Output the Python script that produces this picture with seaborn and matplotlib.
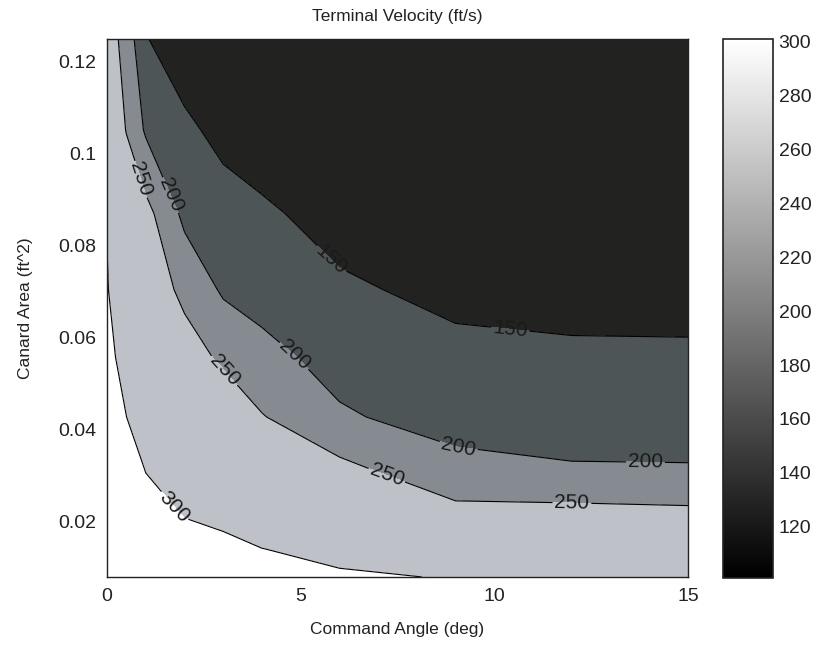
import numpy as np
import pandas as pd
import matplotlib
matplotlib.use("Agg")
import matplotlib.pyplot as plt
import seaborn as sns
from matplotlib import colors as mcolors
from matplotlib.cm import ScalarMappable

# ---- data ----
command_angle = [0, 0.5, 1, 2, 3, 4, 6, 9, 12, 15]          # deg
canard_area = [0.0080, 0.0141, 0.0220, 0.0315, 0.0428,
               0.0558, 0.0705, 0.0870, 0.1052, 0.1250]       # ft^2

# terminal velocity (ft/s), one list per canard area (rows), across command angles
v_area_0080 = [301.0, 301.0, 301.0, 301.0, 301.0, 300.6, 300.5, 299.8, 297.5, 296.0]
v_area_0141 = [301.0, 301.0, 300.9, 300.47, 300.4, 300.05, 298.9, 293.0, 290.0, 287.0]
v_area_0220 = [301.0, 300.9, 300.5, 299.92, 299.57, 297.5, 286.0, 264.0, 263.3, 259.0]
v_area_0315 = [301.0, 300.7, 299.95, 297.0, 295.0, 285.0, 263.5, 212.0, 203.5, 203.0]
v_area_0428 = [301.0, 300.02, 298.0, 289.0, 286.0, 252.9, 204.8, 184.0, 180.0, 178.0]
v_area_0558 = [300.9, 298.85, 292.0, 273.0, 241.0, 211.5, 186.0, 164.0, 158.5, 158.0]
v_area_0705 = [300.8, 290.0, 283.8, 237.5, 193.3, 185.4, 158.4, 136.0, 132.0, 131.0]
v_area_0870 = [299.4, 280.0, 266.9, 188.2, 165.4, 158.9, 129.4, 123.0, 120.0, 118.0]
v_area_1052 = [285.0, 248.5, 193.4, 157.7, 139.4, 120.2, 117.0, 113.0, 110.0, 108.0]
v_area_1250 = [274.7, 232.1, 151.9, 128.0, 118.0, 113.0, 108.0, 104.0, 102.0, 101.0]

contour_levels = [150, 200, 250, 300]
x_ticks = [0, 5, 10, 15]
y_ticks = [0.02, 0.04, 0.06, 0.08, 0.10, 0.12]
y_tick_labels = ["0.02", "0.04", "0.06", "0.08", "0.1", "0.12"]
cbar_ticks = [120, 140, 160, 180, 200, 220, 240, 260, 280, 300]

# ---- build grid ----
Z = np.array([v_area_0080, v_area_0141, v_area_0220, v_area_0315, v_area_0428,
              v_area_0558, v_area_0705, v_area_0870, v_area_1052, v_area_1250])
X, Y = np.meshgrid(command_angle, canard_area)

sns.set_theme(style="white")
plt.rcParams["font.family"] = ["Liberation Sans", "DejaVu Sans"]

fig = plt.figure(figsize=(8.18, 6.5), dpi=100)
ax = fig.add_axes([0.1308, 0.1123, 0.7103, 0.8277])
cax = fig.add_axes([0.8839, 0.1110, 0.0611, 0.8290])

fill_colors = ["#222221", "#4e5557", "#858b90", "#bec2c8", "#ffffff"]
fill_levels = [Z.min() - 1] + contour_levels + [Z.max() + 1]
ax.contourf(X, Y, Z, levels=fill_levels, colors=fill_colors)
cs = ax.contour(X, Y, Z, levels=contour_levels, colors="black", linewidths=0.8)

label_pos = [(0.8, 0.0943), (1.63, 0.091), (5.73, 0.0766), (10.4, 0.0607),
             (4.9, 0.0568), (3.0, 0.0527), (1.73, 0.0233), (7.2, 0.0296),
             (9.07, 0.0361), (12.0, 0.0233), (13.9, 0.0326)]
ax.clabel(cs, fmt="%1.0f", fontsize=15, colors="#1a1a1a", inline=True,
          inline_spacing=2, manual=label_pos)

ax.set_xlim(0, 15)
ax.set_ylim(0.008, 0.125)
ax.set_xticks(x_ticks)
ax.set_yticks(y_ticks)
ax.set_yticklabels(y_tick_labels)
ax.tick_params(axis="both", labelsize=14, length=0, pad=8, colors="#222222")
for s in ax.spines.values():
    s.set_visible(True)
    s.set_color("#222222")
    s.set_linewidth(1.0)
ax.set_xlabel("Command Angle (deg)", fontsize=12.5, color="#222222", labelpad=12)
ax.set_ylabel("Canard Area (ft^2)", fontsize=12.5, color="#222222", labelpad=18)
ax.set_title("Terminal Velocity (ft/s)", fontsize=12.5, color="#222222", pad=13)

norm = mcolors.Normalize(vmin=Z.min(), vmax=Z.max())
sm = ScalarMappable(norm=norm, cmap="gray")
cb = fig.colorbar(sm, cax=cax, ticks=cbar_ticks)
cb.outline.set_linewidth(1.2)
cb.outline.set_edgecolor("#222222")
cax.tick_params(direction="in", left=True, right=True, length=4, width=0.8,
                labelsize=14, colors="#222222", pad=4)
for t in cax.get_yticklabels():
    t.set_color("#222222")

fig.savefig("out.png", dpi=100)
